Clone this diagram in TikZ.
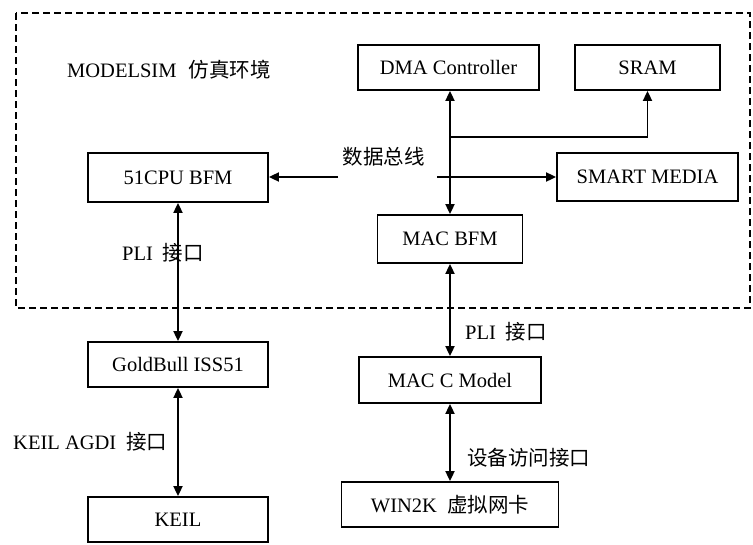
\documentclass[tikz,border=0pt]{standalone}
\usepackage{fontspec}
\setmainfont{Liberation Serif}
\newfontfamily\cjkfont{Noto Sans CJK SC}
\newcommand\zhtxt[1]{{\cjkfont\fontsize{20.5}{24}\selectfont #1}}
\usetikzlibrary{arrows.meta}
\tikzset{
  box/.style={draw, line width=1.8pt, inner sep=0pt, font=\fontsize{20.5}{24}\selectfont},
  lbl/.style={inner sep=0pt, font=\fontsize{20.5}{24}\selectfont},
  link/.style={line width=1.8pt, -{Triangle[length=10pt,width=9pt]}},
  dlink/.style={line width=1.8pt, {Triangle[length=10pt,width=9pt]}-{Triangle[length=10pt,width=9pt]}},
  envbox/.style={draw, line width=1.6pt, dash pattern=on 7pt off 4pt}
}
\begin{document}
\begin{tikzpicture}[x=1pt,y=-1pt]
\useasboundingbox (0,0) rectangle (753,544);
\fill[white] (0,0) rectangle (753,544);
% environment frame
\draw[envbox] (16,13) rectangle (750,308);
\node[lbl, anchor=west] (env) at (67,70) {MODELSIM\hspace{12pt}\zhtxt{仿真环境}};
% boxes
\node[box, minimum width=181pt, minimum height=45pt] (dma) at (448.5,67.5) {DMA Controller};
\node[box, minimum width=145pt, minimum height=45pt] (sram) at (647.5,67.5) {SRAM};
\node[box, minimum width=180pt, minimum height=49pt] (cpu) at (178,177.5) {51CPU BFM};
\node[box, minimum width=181pt, minimum height=48pt] (smart) at (647.5,177) {SMART MEDIA};
\node[box, minimum width=145pt, minimum height=48pt] (macbfm) at (450,239) {MAC BFM};
\node[box, minimum width=180pt, minimum height=45pt] (gold) at (178,364.5) {GoldBull ISS51};
\node[box, minimum width=182pt, minimum height=46pt] (macc) at (450,380) {MAC C Model};
\node[box, minimum width=180pt, minimum height=45pt] (keil) at (178,519.5) {KEIL};
\node[box, minimum width=217pt, minimum height=45pt] (win) at (450,504.5) {WIN2K\hspace{10pt}\zhtxt{虚拟网卡}};
% bus
\coordinate (busL) at (338,177);
\coordinate (busR) at (437,177);
\coordinate (branch) at (450,137);
\node[lbl] (buslbl) at (383.5,157) {\zhtxt{数据总线}};
\draw[link] (busL) -- (cpu.east |- busL);
\draw[link] (busR) -- (smart.west |- busR);
\draw[dlink] (macbfm.north) -- (dma.south -| macbfm.north);
\draw[link] (branch) -| (sram.south);
% vertical links
\draw[dlink] (cpu.south) -- (gold.north);
\draw[dlink] (gold.south) -- (keil.north);
\draw[dlink] (macbfm.south) -- (macc.north);
\draw[dlink] (macc.south) -- (win.north);
% labels
\node[lbl, anchor=west] (pli1) at (122,253) {PLI\hspace{10pt}\zhtxt{接口}};
\node[lbl, anchor=west] (pli2) at (465,332) {PLI\hspace{10pt}\zhtxt{接口}};
\node[lbl, anchor=west] (agdi) at (13,442) {KEIL AGDI\hspace{10pt}\zhtxt{接口}};
\node[lbl, anchor=west] (dev) at (467,458) {\zhtxt{设备访问接口}};
\end{tikzpicture}
\end{document}
